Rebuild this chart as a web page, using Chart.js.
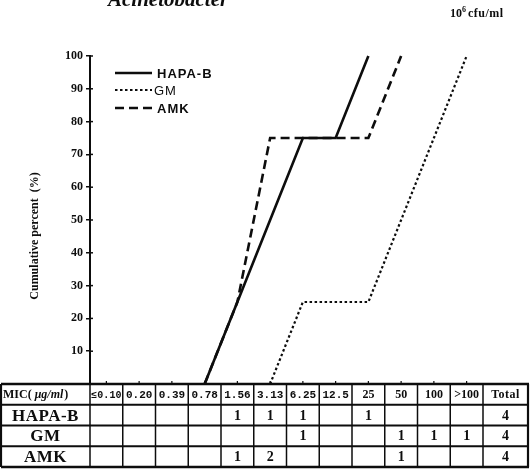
<!DOCTYPE html>
<html>
<head>
<meta charset="utf-8">
<script src="https://cdn.jsdelivr.net/npm/chart.js@4"></script>
<style>
  html, body { margin: 0; padding: 0; background: #fff; }
  #wrap { position: relative; width: 530px; height: 469px; }
</style>
</head>
<body>
<div id="wrap"><canvas id="c" width="530" height="469"></canvas></div>
<script>
// MIC dilution steps (µg/ml)
const micLabels = ['≤0.10', '0.20', '0.39', '0.78', '1.56', '3.13', '6.25', '12.5', '25', '50', '100', '>100'];

// Cumulative percent of strains inhibited at each MIC
const hapaB = [null, null, null, 0, 25, 50, 75, 75, 100, null, null, null];
const gm    = [null, null, null, null, null, 0, 25, 25, 25, 50, 75, 100];
const amk   = [null, null, null, 0, 25, 75, 75, 75, 75, 100, null, null];

// Number of strains at each MIC
const drugNames  = ['HAPA-B', 'GM', 'AMK'];
const countHapaB = ['', '', '', '', '1', '1', '1', '', '1', '', '', ''];
const countGm    = ['', '', '', '', '', '', '1', '', '', '1', '1', '1'];
const countAmk   = ['', '', '', '', '1', '2', '', '', '', '1', '', ''];
const totals     = ['4', '4', '4'];

const yTickValues = [10, 20, 30, 40, 50, 60, 70, 80, 90, 100];

const INK = '#0d0d0d';
const SERIF = "'Liberation Serif', 'Times New Roman', serif";
const SANS = "'Liberation Sans', Arial, sans-serif";
const MONO = "'Liberation Mono', 'DejaVu Sans Mono', monospace";

const decorations = {
  id: 'decorations',
  beforeDraw(chart) {
    const ctx = chart.ctx;
    ctx.save();
    ctx.fillStyle = '#fff';
    ctx.fillRect(0, 0, chart.width, chart.height);
    ctx.restore();
  },
  afterDraw(chart) {
    const ctx = chart.ctx;
    const area = chart.chartArea;
    const xs = chart.scales.x;
    const ys = chart.scales.y;
    ctx.save();
    ctx.fillStyle = INK;
    ctx.strokeStyle = INK;

    // heading texts
    ctx.font = `italic bold 21px ${SERIF}`;
    ctx.textAlign = 'left';
    ctx.textBaseline = 'alphabetic';
    ctx.fillText('Acinetobacter', 108, 6);

    ctx.font = `bold 12px ${SERIF}`;
    ctx.fillText('10', 450, 17);
    const w10 = ctx.measureText('10').width;
    ctx.font = `bold 8px ${SERIF}`;
    ctx.fillText('6', 450 + w10, 12);
    ctx.font = `bold 12px ${SERIF}`;
    ctx.letterSpacing = '0.5px';
    ctx.fillText('cfu/ml', 450 + w10 + 6, 17);
    ctx.letterSpacing = '0px';

    // y-axis title
    ctx.save();
    ctx.translate(35, 236);
    ctx.rotate(-Math.PI / 2);
    ctx.font = `bold 12px ${SERIF}`;
    ctx.textAlign = 'center';
    ctx.textBaseline = 'middle';
    ctx.fillText('Cumulative percent  (%)', 0, 0);
    ctx.restore();

    // inner halves of the y-axis ticks
    ctx.lineWidth = 1.5;
    yTickValues.forEach(v => {
      const y = ys.getPixelForValue(v);
      ctx.beginPath();
      ctx.moveTo(area.left, y);
      ctx.lineTo(area.left + 3, y);
      ctx.stroke();
    });

    // legend
    const legendRows = [
      { label: 'HAPA-B', ds: chart.data.datasets[0], font: `bold 13px ${SANS}`, y: 73, x: 157 },
      { label: 'GM', ds: chart.data.datasets[1], font: `13px ${SANS}`, y: 90, x: 154 },
      { label: 'AMK', ds: chart.data.datasets[2], font: `bold 13px ${SANS}`, y: 108, x: 157 }
    ];
    legendRows.forEach(r => {
      ctx.save();
      ctx.lineWidth = r.ds.borderWidth;
      ctx.setLineDash(r.ds.borderDash || []);
      ctx.beginPath();
      ctx.moveTo(115, r.y);
      ctx.lineTo(152, r.y);
      ctx.stroke();
      ctx.restore();
      ctx.font = r.font;
      ctx.letterSpacing = '1px';
      ctx.textAlign = 'left';
      ctx.textBaseline = 'middle';
      ctx.fillText(r.label, r.x, r.y + 1);
      ctx.letterSpacing = '0px';
    });

    // table
    const n = micLabels.length;
    const colW = xs.width / n;
    const edges = [1, area.left];
    for (let i = 0; i < n; i++) edges.push(xs.getPixelForValue(i) + colW / 2);
    edges.push(528);
    const top = area.bottom;
    const bottom = 467;
    const rowH = (bottom - top) / 4;
    const rowsY = [0, 1, 2, 3, 4].map(k => top + k * rowH);

    // small ticks on the table's upper rule at each MIC step
    ctx.lineWidth = 1.2;
    for (let i = 0; i < n; i++) {
      const cx = xs.getPixelForValue(i);
      ctx.beginPath();
      ctx.moveTo(cx, top);
      ctx.lineTo(cx, top - 3);
      ctx.stroke();
    }

    rowsY.forEach((y, k) => {
      ctx.lineWidth = (k === 0 || k === 4) ? 2.4 : 1.8;
      ctx.beginPath();
      ctx.moveTo(1, y);
      ctx.lineTo(529, y);
      ctx.stroke();
    });
    edges.forEach((x, k) => {
      ctx.lineWidth = (k === 0 || k === edges.length - 1) ? 2.2 : 1.5;
      ctx.beginPath();
      ctx.moveTo(x, top);
      ctx.lineTo(x, bottom);
      ctx.stroke();
    });

    ctx.textBaseline = 'middle';
    const hy = rowsY[0] + rowH / 2 + 1;

    // header: first cell
    ctx.textAlign = 'left';
    let px = 3;
    ctx.font = `bold 12px ${SERIF}`;
    ctx.fillText('MIC(', px, hy);
    px += ctx.measureText('MIC(').width + 3;
    ctx.font = `italic bold 12px ${SERIF}`;
    ctx.fillText('μg/ml', px, hy);
    px += ctx.measureText('μg/ml').width + 1;
    ctx.font = `bold 12px ${SERIF}`;
    ctx.fillText(')', px, hy);

    // header: MIC steps
    ctx.textAlign = 'center';
    micLabels.forEach((lab, i) => {
      const cx = xs.getPixelForValue(i);
      if (['25', '50', '100', '>100'].includes(lab)) {
        ctx.font = `bold 12px ${SERIF}`;
      } else if (lab.length > 4) {
        ctx.font = `bold 10px ${MONO}`;
      } else {
        ctx.font = `bold 11px ${MONO}`;
      }
      ctx.fillText(lab, cx, hy);
    });
    const totalCx = (edges[edges.length - 2] + edges[edges.length - 1]) / 2;
    ctx.font = `bold 12px ${SERIF}`;
    ctx.letterSpacing = '0.5px';
    ctx.fillText('Total', totalCx, hy);
    ctx.letterSpacing = '0px';

    // body rows
    const counts = [countHapaB, countGm, countAmk];
    const firstCx = (edges[0] + edges[1]) / 2;
    counts.forEach((row, r) => {
      const cy = rowsY[r + 1] + rowH / 2 + 1;
      ctx.font = `bold 17px ${SERIF}`;
      ctx.letterSpacing = '0.5px';
      ctx.fillText(drugNames[r], firstCx, cy);
      ctx.letterSpacing = '0px';
      ctx.font = `bold 14px ${SERIF}`;
      row.forEach((v, i) => {
        if (v !== '') ctx.fillText(v, xs.getPixelForValue(i), cy);
      });
      ctx.fillText(totals[r], totalCx, cy);
    });

    ctx.restore();
  }
};

new Chart(document.getElementById('c'), {
  type: 'line',
  data: {
    labels: micLabels,
    datasets: [
      { label: 'HAPA-B', data: hapaB, borderColor: INK, borderWidth: 2.6, pointRadius: 0, tension: 0, clip: false },
      { label: 'GM', data: gm, borderColor: INK, borderWidth: 2.2, borderDash: [2.5, 2.5], pointRadius: 0, tension: 0, clip: false },
      { label: 'AMK', data: amk, borderColor: INK, borderWidth: 2.6, borderDash: [9, 5], pointRadius: 0, tension: 0, clip: false }
    ]
  },
  options: {
    responsive: false,
    animation: false,
    devicePixelRatio: 1,
    layout: { padding: { left: 0, top: 56, right: 47, bottom: 85 } },
    plugins: { legend: { display: false }, tooltip: { enabled: false } },
    scales: {
      x: { type: 'category', offset: true, display: false },
      y: {
        min: 0,
        max: 100,
        afterFit(scale) { scale.width = 90; },
        afterBuildTicks(scale) { scale.ticks = [0].concat(yTickValues).map(v => ({ value: v })); },
        ticks: {
          color: INK,
          padding: 3,
          font: { family: 'Liberation Serif', weight: 'bold', size: 12 },
          callback: v => (v === 0 ? '' : v)
        },
        grid: { drawOnChartArea: false, tickLength: 4, color: INK, lineWidth: 1.5 },
        border: { color: INK, width: 2 }
      }
    }
  },
  plugins: [decorations]
});
</script>
</body>
</html>
